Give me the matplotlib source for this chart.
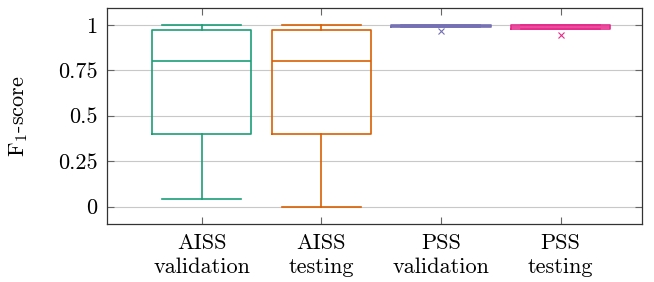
import matplotlib
matplotlib.use('Agg')
import matplotlib.pyplot as plt

plt.rcParams['font.family'] = 'cmr10'
plt.rcParams['mathtext.fontset'] = 'cm'
plt.rcParams['axes.formatter.use_mathtext'] = True

# data
labels = ['AISS\nvalidation', 'AISS\ntesting', 'PSS\nvalidation', 'PSS\ntesting']
colors = ['#1b9e77', '#d95f02', '#7570b3', '#e7298a']
lower_whisker = [0.04, 0.0, 0.985, 0.978]
q1 = [0.40, 0.40, 0.985, 0.978]
median = [0.80, 0.80, 0.995, 0.99]
q3 = [0.97, 0.97, 1.0, 1.0]
upper_whisker = [1.0, 1.0, 1.0, 1.0]
outliers = [[], [], [0.967], [0.945]]

yticks = [0, 0.25, 0.5, 0.75, 1]
ytick_labels = ['0', '0.25', '0.5', '0.75', '1']

fig = plt.figure(figsize=(6.54, 2.82), dpi=100)
ax = fig.add_axes([0.1636, 0.2057, 0.8181, 0.7659])

for i in range(len(labels)):
    st = dict(whislo=lower_whisker[i], q1=q1[i], med=median[i], q3=q3[i],
              whishi=upper_whisker[i], fliers=outliers[i])
    c = colors[i]
    ax.bxp([st], positions=[i + 1], widths=0.83, capwidths=0.66, showfliers=True,
           boxprops=dict(color=c, linewidth=1.2),
           medianprops=dict(color=c, linewidth=1.2),
           whiskerprops=dict(color=c, linewidth=1.2),
           capprops=dict(color=c, linewidth=1.2),
           flierprops=dict(marker='x', markeredgecolor=c, markersize=4, markeredgewidth=0.8))

ax.set_xlim(0.21, 4.68)
ax.set_ylim(-0.095, 1.092)
ax.set_xticks(range(1, len(labels) + 1))
ax.set_xticklabels(labels, fontsize=16, linespacing=1.3)
ax.set_yticks(yticks)
ax.set_yticklabels(ytick_labels, fontsize=16)
ax.set_ylabel('F$_1$-score', fontsize=16, labelpad=20)

ax.yaxis.grid(True, color='#c8c8c8', linewidth=0.8)
ax.set_axisbelow(True)
ax.tick_params(direction='in', top=True, right=True, length=5, color='#666666', width=0.8)
ax.tick_params(axis='x', pad=7)
ax.tick_params(axis='y', pad=7)
for s in ax.spines.values():
    s.set_color('#333333')
    s.set_linewidth(0.9)

fig.savefig('out.png', dpi=100)
